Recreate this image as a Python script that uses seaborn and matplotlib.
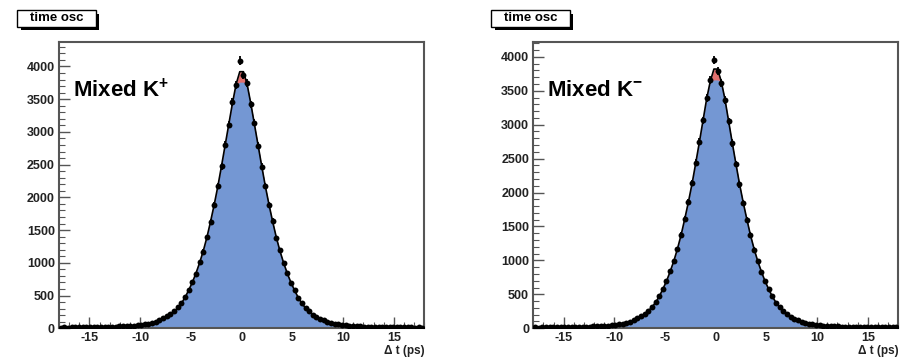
import numpy as np
import pandas as pd
import matplotlib
matplotlib.use("Agg")
import matplotlib.pyplot as plt
import seaborn as sns
from matplotlib.patches import Rectangle
from matplotlib.ticker import MultipleLocator

# Δt histogram: 100 bins from -18 to 18 ps
bin_edges = np.linspace(-18, 18, 101)

# Mixed K+ : measured counts per bin and fitted curve
kplus_counts = [
    12, 15, 11, 14, 15, 14, 17, 15, 18, 19, 20, 22, 20, 24, 25, 27, 28, 31, 34, 38,
    42, 47, 53, 62, 72, 85, 101, 122, 150, 182, 222, 262, 318, 388, 476, 585, 702, 836, 1006, 1172,
    1392, 1622, 1882, 2176, 2472, 2806, 3112, 3452, 3712, 4090,
    3870, 3740, 3420, 3140, 2790, 2470, 2180, 1880, 1640, 1380, 1190, 990, 845, 690, 585, 462,
    382, 305, 258, 205, 174, 138, 119, 94, 82, 66, 59, 48, 45, 37, 36, 31, 29, 26, 25, 22,
    23, 20, 21, 18, 19, 16, 17, 15, 16, 13, 14, 12, 13, 11,
]
kplus_fit = [
    12, 12, 13, 13, 14, 15, 15, 16, 17, 18, 19, 20, 21, 22, 23, 25, 27, 29, 32, 35,
    39, 44, 50, 58, 68, 81, 97, 117, 142, 172, 210, 255, 310, 380, 470, 580, 700, 840, 1000, 1180,
    1390, 1630, 1890, 2170, 2480, 2800, 3120, 3440, 3730, 3920,
    3920, 3730, 3440, 3120, 2800, 2480, 2170, 1890, 1630, 1390, 1180, 1000, 840, 700, 580, 470,
    380, 310, 255, 210, 172, 142, 117, 97, 81, 68, 58, 50, 44, 39, 35, 32, 29, 27, 25, 23,
    22, 21, 20, 19, 18, 17, 16, 15, 15, 14, 13, 13, 12, 12,
]

# Mixed K- : measured counts per bin and fitted curve
kminus_counts = [
    13, 11, 14, 12, 15, 14, 16, 15, 17, 19, 18, 21, 20, 23, 22, 26, 27, 30, 33, 36,
    41, 45, 52, 60, 70, 83, 99, 120, 146, 176, 214, 258, 314, 384, 472, 580, 698, 838, 996, 1168,
    1380, 1612, 1868, 2140, 2440, 2750, 3065, 3400, 3660, 3950,
    3790, 3610, 3360, 3050, 2730, 2420, 2120, 1850, 1600, 1380, 1160, 995, 830, 700, 572, 470,
    376, 312, 252, 208, 170, 141, 115, 98, 80, 69, 57, 51, 43, 40, 34, 33, 28, 28, 24, 24,
    21, 21, 19, 20, 17, 18, 16, 15, 15, 14, 13, 13, 12, 12,
]
kminus_fit = [
    12, 12, 13, 13, 14, 15, 15, 16, 17, 18, 19, 20, 21, 22, 23, 25, 27, 29, 32, 35,
    39, 44, 50, 58, 68, 81, 97, 117, 142, 172, 210, 255, 310, 380, 468, 577, 695, 835, 990, 1170,
    1375, 1610, 1860, 2130, 2430, 2740, 3060, 3380, 3640, 3820,
    3820, 3640, 3380, 3060, 2740, 2430, 2130, 1860, 1610, 1375, 1170, 990, 835, 695, 577, 468,
    380, 310, 255, 210, 172, 142, 117, 97, 81, 68, 58, 50, 44, 39, 35, 32, 29, 27, 25, 23,
    22, 21, 20, 19, 18, 17, 16, 15, 15, 14, 13, 13, 12, 12,
]

panel_labels = [r"Mixed K$^{\mathbf{+}}$", r"Mixed K$^{\mathbf{-}}$"]
y_tops = [4370, 4215]
blue_caps = [3760, 3660]
title_text = "time osc"
x_ticks = [-15, -10, -5, 0, 5, 10, 15]
y_ticks = [0, 500, 1000, 1500, 2000, 2500, 3000, 3500, 4000]

BLUE = "#7497d3"
RED = "#e2706e"
FRAME = "#555555"

sns.set_theme(style="white")
plt.rcParams['font.family'] = ['Liberation Sans', 'DejaVu Sans']
plt.rcParams['mathtext.fontset'] = 'custom'
plt.rcParams['mathtext.rm'] = 'Liberation Sans:bold'
plt.rcParams['mathtext.bf'] = 'Liberation Sans:bold'

fig = plt.figure(figsize=(9.10, 3.58), dpi=100)

centers = 0.5 * (bin_edges[:-1] + bin_edges[1:])
half_width = 0.5 * (bin_edges[1] - bin_edges[0])

panels = [
    (kplus_counts, kplus_fit, [0.0648, 0.083, 0.4014, 0.799], 0.019),
    (kminus_counts, kminus_fit, [0.586, 0.083, 0.4011, 0.799], 0.540),
]

for i, (counts, fit, rect, title_x) in enumerate(panels):
    ax = fig.add_axes(rect)
    df = pd.DataFrame({"dt": centers, "count": counts, "fit": fit})
    fit_arr = df["fit"].to_numpy(dtype=float)

    # fitted shape: red crest on top of the blue body
    ax.fill_between(df["dt"], 0, fit_arr, color=RED, lw=0, zorder=1)
    ax.fill_between(df["dt"], 0, np.minimum(fit_arr, blue_caps[i]), color=BLUE, lw=0, zorder=2)
    sns.lineplot(data=df, x="dt", y="fit", ax=ax, color="black", lw=1.2, zorder=3,
                 estimator=None, legend=False)

    # data points with bin-width and Poisson error bars
    ax.errorbar(df["dt"], df["count"], xerr=half_width, yerr=np.sqrt(df["count"]),
                fmt="none", ecolor="black", elinewidth=1.3, capsize=0, zorder=4)
    sns.scatterplot(data=df, x="dt", y="count", ax=ax, color="black", s=18,
                    edgecolor="black", linewidth=0, zorder=5, legend=False)

    ax.set_xlim(-18, 18)
    ax.set_ylim(0, y_tops[i])
    ax.set_xticks(x_ticks)
    ax.set_xticklabels([str(v) for v in x_ticks])
    ax.set_yticks(y_ticks)
    ax.set_yticklabels([str(v) for v in y_ticks])
    ax.xaxis.set_minor_locator(MultipleLocator(1))
    ax.yaxis.set_minor_locator(MultipleLocator(100))
    ax.tick_params(axis="both", which="major", direction="in", length=8, width=1,
                   color=FRAME, labelsize=9, pad=3)
    ax.tick_params(axis="both", which="minor", direction="in", length=4, width=0.8,
                   color=FRAME)
    ax.tick_params(top=False, right=False, which="both", bottom=True, left=True)
    for lab in ax.get_xticklabels() + ax.get_yticklabels():
        lab.set_fontweight("bold")
        lab.set_color("#222222")
    for side in ["top", "right", "bottom", "left"]:
        ax.spines[side].set_visible(True)
        ax.spines[side].set_color(FRAME)
        ax.spines[side].set_linewidth(1.5)
    ax.set_xlabel("")
    ax.set_ylabel("")

    ax.text(1.0, -0.058, "Δ t (ps)", transform=ax.transAxes, ha="right", va="top",
            fontsize=8.5, fontweight="bold", color="#222222")
    ax.text(0.038, 0.83, panel_labels[i], transform=ax.transAxes, ha="left", va="center",
            fontsize=16, fontweight="bold", color="black")

    # title pave with drop shadow
    bw, bh = 0.086, 0.047
    by = 0.925
    fig.patches.append(Rectangle((title_x + 0.004, by - 0.010), bw, bh, transform=fig.transFigure,
                                 facecolor="black", edgecolor="none", zorder=1))
    fig.patches.append(Rectangle((title_x, by), bw, bh, transform=fig.transFigure,
                                 facecolor="white", edgecolor="black", lw=1.0, zorder=2))
    fig.text(title_x + bw / 2, by + bh / 2, title_text, ha="center", va="center",
             fontsize=9.5, fontweight="bold", color="black", zorder=3)

fig.savefig("out.png", dpi=100)
